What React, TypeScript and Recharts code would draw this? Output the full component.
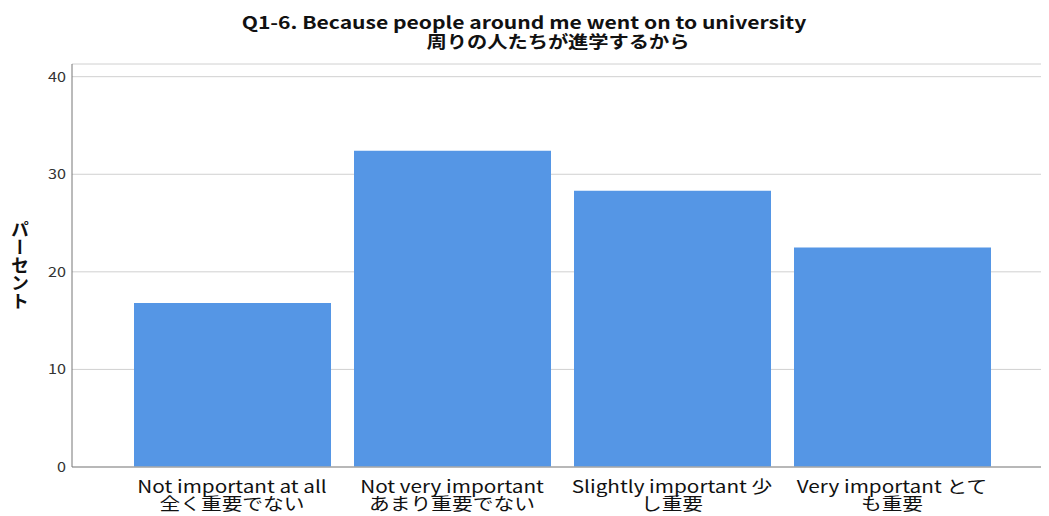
import { BarChart, Bar, XAxis, YAxis, CartesianGrid } from 'recharts';

const categories = ['notAtAll', 'notVery', 'slightly', 'very'];
const tickLine1 = ['Not important at all', 'Not very important', 'Slightly important 少', 'Very important とて'];
const tickLine2 = ['全く重要でない', 'あまり重要でない', 'し重要', 'も重要'];
const percents = [16.8, 32.4, 28.3, 22.5];
const yTicks = [0, 10, 20, 30, 40];

const titleLine1 = 'Q1-6. Because people around me went on to university';
const titleLine2 = '周りの人たちが進学するから';
const yLabel = 'パーセント';

const FONT = '"Noto Sans CJK JP", "Noto Sans", sans-serif';
// the reference text looks stretched sideways
const STRETCH = 1.22;

const data = categories.map((c, i) => ({
  key: c,
  line1: tickLine1[i],
  line2: tickLine2[i],
  value: percents[i],
}));

function CategoryTick(props: any) {
  const { x, y, payload } = props;
  const row = data.find(d => d.key === payload.value);
  if (!row) return null;
  return (
    <g transform={`translate(${x},${y}) scale(${STRETCH},1)`}>
      <text x={0} y={18} textAnchor="middle" fontSize={17} fill="#111" fontFamily={FONT}>{row.line1}</text>
      <text x={0} y={35} textAnchor="middle" fontSize={17} fill="#111" fontFamily={FONT}>{row.line2}</text>
    </g>
  );
}

function ValueTick(props: any) {
  const { x, y, payload } = props;
  return (
    <g transform={`translate(${x},${y}) scale(1.2,1)`}>
      <text x={0} y={5} textAnchor="end" fontSize={13.5} fill="#333" fontFamily={FONT}>{payload.value}</text>
    </g>
  );
}

const titleStyle = {
  position: 'absolute' as const,
  left: 0,
  width: 1032,
  textAlign: 'center' as const,
  fontFamily: FONT,
  fontWeight: 700,
  fontSize: 17,
  lineHeight: '19px',
  color: '#111',
  whiteSpace: 'nowrap' as const,
};

export default function App() {
  return (
    <div style={{ position: 'relative', width: 1041, height: 508, background: '#fff' }}>
      <div style={{ ...titleStyle, top: 4, transform: 'scaleX(1.24)' }}>
        {titleLine1}
      </div>
      <div style={{ ...titleStyle, top: 23, left: 34, transform: 'scaleX(1.19)' }}>
        {titleLine2}
      </div>
      <BarChart
        width={1041}
        height={508}
        data={data}
        margin={{ top: 56, right: 1, left: 0, bottom: 0 }}
      >
        <CartesianGrid stroke="#d0d0d0" vertical={false} />
        <XAxis
          dataKey="key"
          height={49}
          padding={{ left: 50, right: 46 }}
          tickLine={false}
          axisLine={{ stroke: '#a8a8a8', strokeWidth: 1.5 }}
          tick={<CategoryTick />}
          interval={0}
        />
        <YAxis
          width={64}
          domain={[0, 41.3]}
          ticks={yTicks}
          tickLine={false}
          tickSize={0}
          tickMargin={6}
          axisLine={{ stroke: '#777' }}
          tick={<ValueTick />}
          label={{
            content: () => (
              <text
                x={12}
                y={257}
                textAnchor="middle"
                fontSize={18}
                fontWeight={700}
                fill="#111"
                fontFamily={FONT}
                style={{ writingMode: 'vertical-rl' }}
              >
                {yLabel}
              </text>
            ),
          }}
        />
        <Bar dataKey="value" fill="#5596e5" barSize={197} isAnimationActive={false} />
      </BarChart>
    </div>
  );
}
